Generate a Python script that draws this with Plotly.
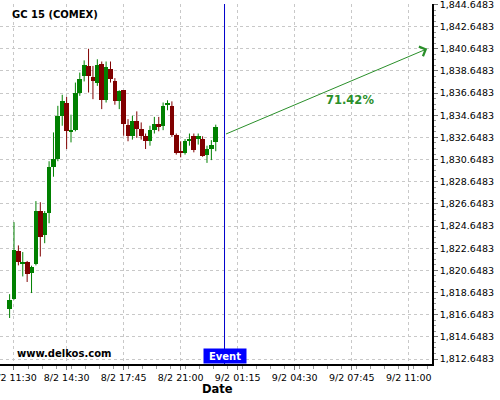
import plotly.graph_objects as go

# ---- data ----
opens = [1817.2, 1818.1, 1822.4, 1821.2, 1821.4, 1820.4, 1821.2, 1826.0, 1823.8, 1825.8,
         1830.0, 1830.7, 1834.6, 1835.8, 1833.2, 1833.3, 1836.7, 1838.2, 1839.1, 1838.1,
         1837.6, 1839.3, 1836.0, 1838.8, 1837.75, 1835.9, 1836.9, 1833.8, 1832.75, 1834.1,
         1833.4, 1832.75, 1832.3, 1833.35, 1833.9, 1833.66, 1835.6, 1835.5, 1832.9, 1831.35,
         1831.25, 1832.3, 1832.75, 1832.5, 1832.5, 1831.1, 1831.6, 1832.2]
highs = [1818.5, 1825.0, 1822.9, 1822.3, 1821.5, 1821.07, 1826.9, 1826.8, 1826.0, 1830.5,
         1833.1, 1835.5, 1836.5, 1836.3, 1834.7, 1837.6, 1838.5, 1839.6, 1840.65, 1839.1,
         1839.7, 1839.5, 1839.5, 1839.5, 1838.0, 1836.9, 1836.9, 1834.3, 1834.6, 1835.0,
         1834.0, 1833.0, 1833.7, 1834.5, 1834.5, 1835.8, 1836.0, 1835.9, 1833.0, 1832.3,
         1832.5, 1833.0, 1833.0, 1833.0, 1832.75, 1831.9, 1832.4, 1833.8]
lows = [1816.35, 1818.0, 1821.1, 1820.1, 1819.6, 1818.6, 1821.1, 1821.9, 1823.1, 1824.9,
        1829.1, 1830.5, 1833.7, 1831.6, 1832.2, 1833.2, 1836.4, 1837.7, 1836.7, 1836.1,
        1837.3, 1835.2, 1835.8, 1837.6, 1835.6, 1835.2, 1832.8, 1832.3, 1832.45, 1832.6,
        1832.45, 1831.6, 1831.9, 1833.0, 1833.2, 1833.3, 1835.1, 1832.7, 1831.1, 1830.85,
        1831.1, 1831.9, 1831.3, 1832.0, 1830.9, 1830.35, 1830.6, 1831.4]
closes = [1818.0, 1822.5, 1821.4, 1821.4, 1820.3, 1820.95, 1826.0, 1823.7, 1825.8, 1830.0,
          1830.7, 1834.6, 1835.9, 1833.2, 1833.3, 1836.7, 1837.9, 1839.2, 1838.2, 1837.7,
          1839.2, 1836.0, 1839.0, 1837.9, 1835.9, 1836.84, 1833.9, 1832.75, 1834.1, 1833.4,
          1832.8, 1832.3, 1833.3, 1833.9, 1833.6, 1835.46, 1835.65, 1832.9, 1831.25, 1831.25,
          1832.3, 1832.5, 1831.55, 1832.75, 1831.0, 1831.6, 1832.0, 1833.6]

tick_index = [1, 13, 26, 39, 52, 65, 78, 91]
tick_labels = ["8/2 11:30", "8/2 14:30", "8/2 17:45", "8/2 21:00",
               "9/2 01:15", "9/2 04:30", "9/2 07:45", "9/2 11:00"]
y_ticks = [1812.6483 + 2 * k for k in range(17)]

event_index = 49
arrow_start_price = 1832.9
target_price = 1840.6483
target_index = 95.2
probability = "71.42%"
title = "GC 15 (COMEX)"

GREEN = "#008000"
RED = "#800000"
FONT = "DejaVu Sans"

x = list(range(len(opens)))
up = [c >= o for o, c in zip(opens, closes)]

fig = go.Figure()

# wicks
for flag, col in ((True, GREEN), (False, RED)):
    wx, wy = [], []
    for i in x:
        if up[i] == flag:
            wx += [i, i, None]
            wy += [lows[i], highs[i], None]
    fig.add_trace(go.Scatter(x=wx, y=wy, mode="lines", line=dict(color=col, width=1),
                             hoverinfo="skip", showlegend=False))

# bodies
for flag, col in ((True, GREEN), (False, RED)):
    bx = [i for i in x if up[i] == flag]
    base = [min(opens[i], closes[i]) for i in bx]
    h = [max(abs(closes[i] - opens[i]), 0.09) for i in bx]
    fig.add_trace(go.Bar(x=bx, y=h, base=base, width=1.08, marker=dict(color=col, line=dict(width=0)),
                         showlegend=False, hoverinfo="skip"))

# minor x ticks
step = (tick_index[2] - tick_index[1]) / 4
minor_x = [tick_index[0] + k * step - 4 * step for k in range(0, 40)]

fig.update_layout(
    width=500, height=400,
    margin=dict(l=0, r=68, t=4, b=36, autoexpand=False),
    paper_bgcolor="white", plot_bgcolor="white",
    font=dict(family=FONT, size=9.5, color="black"),
    bargap=0,
    xaxis=dict(range=[-2.19, 96.3], tickvals=tick_index, ticktext=tick_labels, automargin=False,
               ticklabeloverflow="allow",
               showgrid=True, gridcolor="#c8c8c8", griddash="3px,3px", gridwidth=1,
               showline=True, linecolor="black", linewidth=1.5, ticks="outside", ticklen=4,
               tickcolor="#777", zeroline=False,
               minor=dict(tickvals=minor_x, ticklen=3, tickcolor="#999", showgrid=False),
               tickfont=dict(size=9.5)),
    yaxis=dict(side="right", range=[1812.197, 1844.69], tickvals=y_ticks, tickformat=",.4f",
               automargin=False, ticklabeloverflow="allow",
               showgrid=True, gridcolor="#c8c8c8", griddash="3px,3px", gridwidth=1,
               showline=True, linecolor="black", linewidth=1.5, ticks="outside", ticklen=4,
               tickcolor="#777", zeroline=False,
               minor=dict(dtick=0.5, tick0=0.6483, ticklen=2, tickcolor="#999", showgrid=False),
               tickfont=dict(size=9.5)),
)

# event line
fig.add_shape(type="line", xref="x", yref="paper", x0=event_index, x1=event_index, y0=0, y1=1,
              line=dict(color="#0000cc", width=1))

fig.add_annotation(x=event_index, xref="x", y=0, yref="paper", yanchor="bottom", xanchor="center",
                   text="<b> Event </b>", showarrow=False, bgcolor="#0000ff",
                   font=dict(color="white", size=10, family=FONT), borderpad=1.5)

# forecast arrow
fig.add_annotation(x=target_index, y=target_price, ax=event_index, ay=arrow_start_price,
                   xref="x", yref="y", axref="x", ayref="y", text="", showarrow=True,
                   arrowhead=4, arrowsize=2, arrowwidth=1, arrowcolor="#2a8f2a")
fig.add_annotation(x=77.5, y=1836.07, xref="x", yref="y", text="<b>" + probability + "</b>",
                   showarrow=False, font=dict(color="#2a8f2a", size=11.5, family=FONT))

fig.add_annotation(x=0.023, y=0.971, xref="paper", yref="paper", xanchor="left", yanchor="middle",
                   text="<b>" + title + "</b>", showarrow=False, font=dict(size=10, family=FONT))
fig.add_annotation(x=0.035, y=0.028, xref="paper", yref="paper", xanchor="left", yanchor="middle",
                   text="<b>www.delkos.com</b>", showarrow=False, font=dict(size=10, family=FONT))
fig.add_annotation(x=event_index - 1.5, xref="x", y=-0.07, yref="paper", yanchor="middle",
                   xanchor="center", text="<b>Date</b>", showarrow=False,
                   font=dict(size=11.5, family=FONT))

fig.write_html("out.html", config={"displayModeBar": False},
               post_script="document.body.style.margin='0';document.body.style.padding='0';")
